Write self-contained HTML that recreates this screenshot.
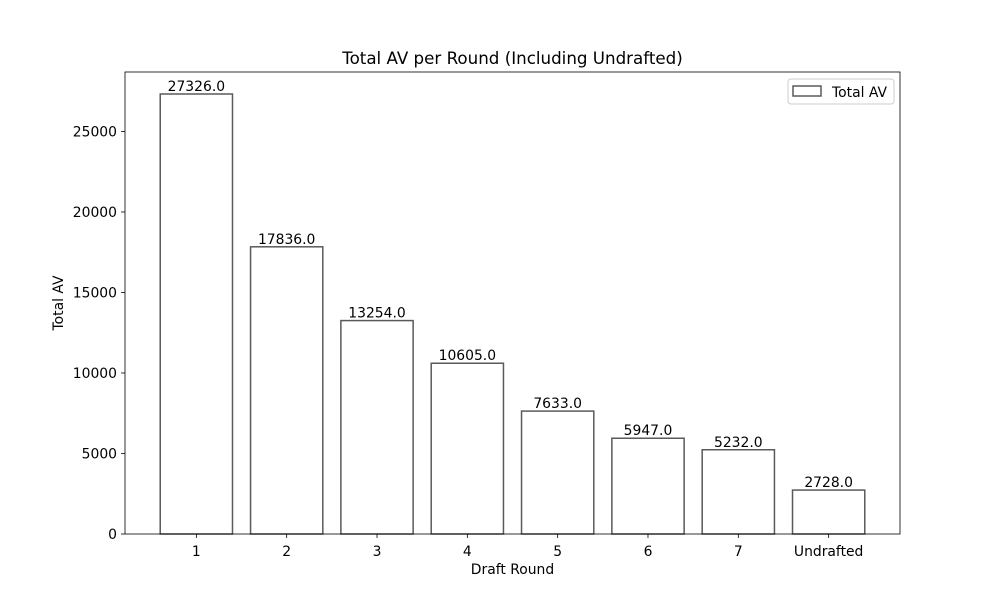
<!DOCTYPE html>
<html><head><meta charset="utf-8"><style>
body{margin:0;background:#fff}
svg{display:block;font-family:"DejaVu Sans","Liberation Sans",sans-serif}
</style></head><body>
<svg id="chart" width="1000" height="600">
<rect width="1000" height="600" fill="#fff"/>
</svg>
<script>
const categories=["1","2","3","4","5","6","7","Undrafted"];
const values=[27326,17836,13254,10605,7633,5947,5232,2728];
const yTicks=[0,5000,10000,15000,20000,25000];
const L=125,R=900,T=72,B=534;
const ymax=Math.max(...values)*1.05;
const n=categories.length;
const xmin=-0.4-(n-0.2)*0.05, xmax=n-1+0.4+(n-0.2)*0.05;
const X=v=>L+(v-xmin)/(xmax-xmin)*(R-L);
const Y=v=>B-v/ymax*(B-T);
const svg=document.getElementById('chart');
const NS='http://www.w3.org/2000/svg';
const FS=13.9;
function mk(t,a,txt){const e=document.createElementNS(NS,t);for(const k in a)e.setAttribute(k,a[k]);if(txt!==undefined)e.textContent=txt;svg.appendChild(e);return e;}
values.forEach((v,i)=>{
 const x0=X(i-0.4),x1=X(i+0.4);
 const b=mk('rect',{x:x0,y:Y(v),width:x1-x0,height:B-Y(v),fill:'none',stroke:'#5a5a5a','stroke-width':1.5});
 
 
 const t=mk('text',{x:X(i),y:Y(v)-3,'text-anchor':'middle','font-size':FS},v.toFixed(1));
 
 
 mk('line',{x1:X(i),x2:X(i),y1:B,y2:B+4,stroke:'#000','stroke-width':0.8});
 const c=mk('text',{x:X(i),y:B+22,'text-anchor':'middle','font-size':FS},categories[i]);
 
 
});
yTicks.forEach(v=>{
 mk('line',{x1:L-4,x2:L,y1:Y(v),y2:Y(v),stroke:'#000','stroke-width':0.8});
 const t=mk('text',{x:L-8,y:Y(v)+5,'text-anchor':'end','font-size':FS},v);
 
 
});
const f=mk('rect',{x:L,y:T,width:R-L,height:B-T,fill:'none',stroke:'#000','stroke-width':0.8});

const ti=mk('text',{x:(L+R)/2,y:64,'text-anchor':'middle','font-size':16.7},'Total AV per Round (Including Undrafted)');

const xt=mk('text',{x:(L+R)/2,y:574,'text-anchor':'middle','font-size':FS},'Draft Round');

const yt=mk('text',{x:63,y:(T+B)/2,'text-anchor':'middle','font-size':FS,transform:'rotate(-90 63 '+(T+B)/2+')'},'Total AV');

const lg=mk('rect',{x:788,y:79,width:106,height:25,rx:3,fill:'#fff',stroke:'#ccc'});

mk('rect',{x:793,y:86,width:28,height:10,fill:'none',stroke:'#5a5a5a','stroke-width':1.5});
const lt=mk('text',{x:832,y:97,'font-size':FS},'Total AV');

</script>
</body></html>
